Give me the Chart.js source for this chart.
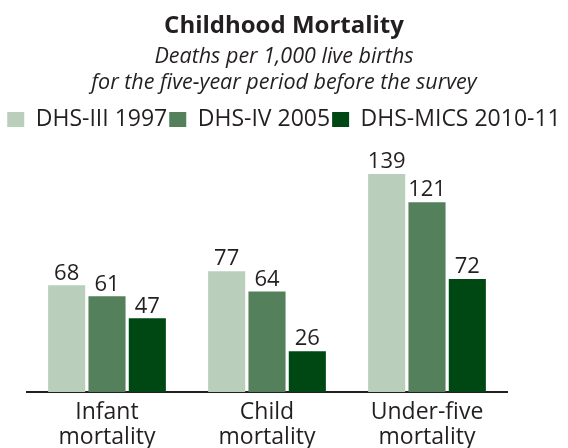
<!DOCTYPE html>
<html>
<head>
<meta charset="utf-8">
<script src="https://cdn.jsdelivr.net/npm/chart.js@4"></script>
<style>
  html, body { margin: 0; padding: 0; background: #fff; }
  #wrap { width: 568px; height: 448px; }
</style>
</head>
<body>
<div id="wrap"><canvas id="mortality-chart"></canvas></div>
<script>
const categories = [["Infant", "mortality"], ["Child", "mortality"], ["Under-five", "mortality"]];
const seriesNames = ["DHS-III 1997", "DHS-IV 2005", "DHS-MICS 2010-11"];
const dhs1997 = [68, 77, 139];
const dhs2005 = [61, 64, 121];
const dhs2010 = [47, 26, 72];

const COLORS = ["#b9cfbb", "#54815b", "#004813"];
const FONT = "'Open Sans', 'Noto Sans', sans-serif";
const TEXT = "#231f20";

// draws the value above each bar
const valueLabels = {
    id: "valueLabels",
    afterDatasetsDraw(chart) {
        const ctx = chart.ctx;
        ctx.save();
        ctx.font = "22px " + FONT;
        ctx.fillStyle = TEXT;
        ctx.textAlign = "center";
        ctx.textBaseline = "bottom";
        chart.data.datasets.forEach((ds, i) => {
            chart.getDatasetMeta(i).data.forEach((bar, j) => {
                ctx.fillText(ds.data[j], bar.x, bar.y - 1);
            });
        });
        ctx.restore();
    },
};

const seriesData = [dhs1997, dhs2005, dhs2010];

new Chart(document.getElementById("mortality-chart").getContext("2d"), {
    type: "bar",
    data: {
        labels: categories,
        datasets: seriesNames.map((name, i) => ({
            label: name,
            data: seriesData[i],
            backgroundColor: COLORS[i],
            categoryPercentage: 0.756,
            barPercentage: 0.92,
        })),
    },
    options: {
        responsive: true,
        maintainAspectRatio: false,
        animation: false,
        layout: { padding: { left: 0, right: 0, top: 8, bottom: 0 } },
        plugins: {
            title: {
                display: true,
                text: "Childhood Mortality",
                color: TEXT,
                font: { family: FONT, size: 24, weight: "bold", lineHeight: 1.1 },
                padding: { top: 5, bottom: 0 },
            },
            subtitle: {
                display: true,
                text: ["Deaths per 1,000 live births", "for the five-year period before the survey"],
                color: TEXT,
                font: { family: FONT, size: 21.5, style: "italic", lineHeight: 1.2 },
                padding: { top: 5, bottom: 10 },
            },
            legend: {
                position: "top",
                labels: {
                    color: TEXT,
                    font: { family: FONT, size: 23 },
                    boxWidth: 17,
                    boxHeight: 15,
                    padding: 2,
                },
            },
            tooltip: { enabled: false },
        },
        scales: {
            x: {
                grid: { display: false },
                border: { color: TEXT, width: 2 },
                ticks: { color: TEXT, font: { family: FONT, size: 23, lineHeight: 1.1 }, padding: 0 },
                afterFit(axis) { axis.height = 56; },
            },
            y: {
                position: "left",
                min: 0,
                max: 160,
                ticks: { display: false },
                grid: { display: false },
                border: { display: false },
                afterFit(axis) { axis.width = 27; },
            },
            yRight: {
                position: "right",
                ticks: { display: false },
                grid: { display: false },
                border: { display: false },
                afterFit(axis) { axis.width = 61; },
            },
        },
    },
    plugins: [valueLabels],
});
</script>
</body>
</html>
